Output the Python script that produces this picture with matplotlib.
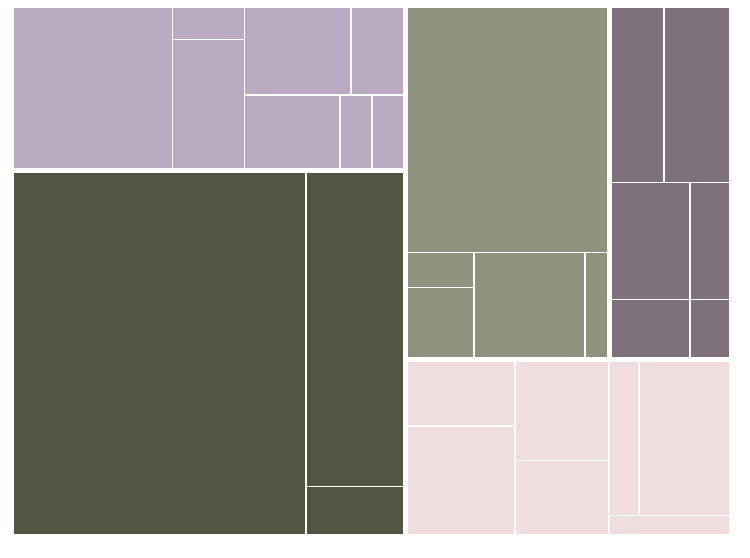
import matplotlib
matplotlib.use('Agg')
import matplotlib.pyplot as plt
from matplotlib.patches import Rectangle

# leaf values per group (no labels in the chart)
purple_vals = [11, 1, 4, 4, 2, 3, 1, 1]
olive_vals = [45, 13, 2]
green_vals = [21, 1, 2, 5, 1]
mauve_vals = [4, 5, 4, 2, 2, 1]
pink_vals = [3, 5, 4, 3, 2, 6, 1]

groups = [purple_vals, olive_vals, green_vals, mauve_vals, pink_vals]
colors = ['#BBABC2', '#535543', '#8F937D', '#7F717B', '#F0DEDF']

PHI = (1 + 5 ** 0.5) / 2


def squarify(values, x0, y0, x1, y1, ratio=PHI):
    # port of d3.treemapSquarify, keeps the input order
    rects = []
    n = len(values)
    value = float(sum(values))
    i0 = i1 = 0
    while i0 < n:
        dx, dy = x1 - x0, y1 - y0
        sum_v = values[i1]
        i1 += 1
        min_v = max_v = sum_v
        alpha = max(dy / dx, dx / dy) / (value * ratio)
        beta = sum_v * sum_v * alpha
        min_ratio = max(max_v / beta, beta / min_v)
        while i1 < n:
            v = values[i1]
            s = sum_v + v
            mn, mx = min(min_v, v), max(max_v, v)
            beta = s * s * alpha
            new_ratio = max(mx / beta, beta / mn)
            if new_ratio > min_ratio:
                break
            sum_v, min_v, max_v, min_ratio = s, mn, mx, new_ratio
            i1 += 1
        row = values[i0:i1]
        if dx < dy:
            ny = y0 + dy * sum_v / value
            cx = x0
            for v in row:
                w = (x1 - x0) * v / sum_v
                rects.append((cx, y0, cx + w, ny))
                cx += w
            y0 = ny
        else:
            nx = x0 + dx * sum_v / value
            cy = y0
            for v in row:
                h = (y1 - y0) * v / sum_v
                rects.append((x0, cy, nx, cy + h))
                cy += h
            x0 = nx
        value -= sum_v
        i0 = i1
    return rects


def padded(values, rect, pad):
    x0, y0, x1, y1 = rect
    p = pad / 2
    out = squarify(values, x0 - p, y0 - p, x1 + p, y1 + p)
    return [(a + p, b + p, c - p, d - p) for a, b, c, d in out]


fig = plt.figure(figsize=(7.5, 5.58), dpi=100)
ax = fig.add_axes([0, 0, 1, 1])
ax.set_xlim(0, 750)
ax.set_ylim(558, 0)
ax.axis('off')

root = (14, 8, 729, 534)
group_rects = padded([sum(g) for g in groups], root, 5)

for vals, grect, col in zip(groups, group_rects, colors):
    for x0, y0, x1, y1 in padded(vals, grect, 1.6):
        ax.add_patch(Rectangle((x0, y0), x1 - x0, y1 - y0,
                               facecolor=col, edgecolor='none'))

fig.savefig('out.png', dpi=100, facecolor='white')
